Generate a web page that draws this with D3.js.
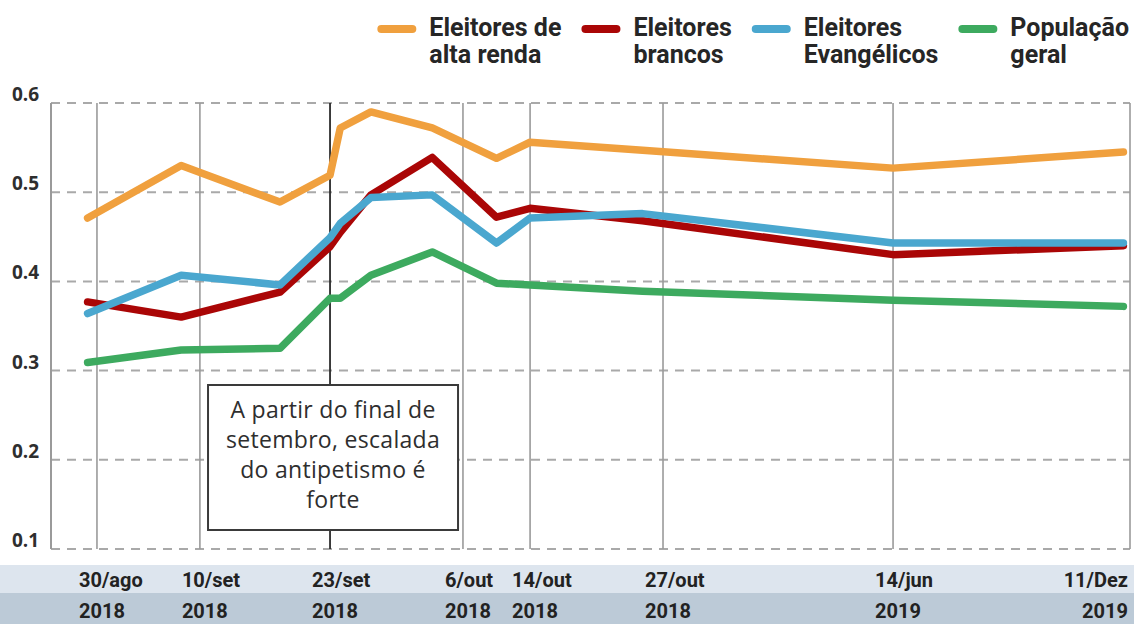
<!DOCTYPE html>
<html><head><meta charset="utf-8">
<script src="https://cdn.jsdelivr.net/npm/d3@7"></script>
<style>
html,body{margin:0;padding:0;background:#fff;}
svg{display:block;}
</style></head><body>
<svg id="chart" width="1134" height="624"></svg>
<script>
// ---------- data ----------
const surveyDates = ["2018-08-29","2018-09-08","2018-09-18","2018-09-23","2018-09-24","2018-09-27",
                     "2018-10-03","2018-10-10","2018-10-14","2018-10-25","2019-06-14","2019-12-06"];
const eleitoresAltaRenda   = [0.471,0.530,0.489,0.519,0.572,0.590,0.572,0.538,0.556,0.547,0.527,0.545];
const eleitoresBrancos     = [0.377,0.360,0.388,0.439,0.455,0.497,0.539,0.472,0.482,0.468,0.430,0.440];
const eleitoresEvangelicos = [0.364,0.407,0.396,0.449,0.465,0.494,0.497,0.443,0.471,0.476,0.443,0.443];
const populacaoGeral       = [0.309,0.323,0.325,0.381,0.381,0.407,0.433,0.398,0.396,0.389,0.379,0.372];

const seriesNames  = ["Eleitores de alta renda","Eleitores brancos","Eleitores Evangélicos","População geral"];
const legendLines  = [["Eleitores de","alta renda"],["Eleitores","brancos"],["Eleitores","Evangélicos"],["População","geral"]];

const tickDates      = ["2018-08-30","2018-09-10","2018-09-23","2018-10-06","2018-10-14","2018-10-27","2019-06-14","2019-12-11"];
const tickDayLabels  = ["30/ago","10/set","23/set","6/out","14/out","27/out","14/jun","11/Dez"];
const tickYearLabels = ["2018","2018","2018","2018","2018","2018","2019","2019"];
const yTickValues    = [0.1,0.2,0.3,0.4,0.5,0.6];
const highlightDate  = "2018-09-23";
const annotationLines = ["A partir do final de","setembro, escalada","do antipetismo é","forte"];

// ---------- styles / layout ----------
const seriesColors = ["#F0A03E","#AA0606","#4AA7CF","#3DAA5F"];
const drawOrder = [3,1,2,0];
const W = 1134, H = 624;
const plot = {left:51, right:1130, top:103, bottom:549};
// horizontal layout of the (non-proportional) date axis, as fractions of plot width
const tickFrac = [0.0426,0.138,0.2586,0.3818,0.4440,0.5672,0.7804,1.0];

const parse = d3.timeParse("%Y-%m-%d");
const svg = d3.select("#chart");
const pw = plot.right - plot.left;

const x = d3.scaleTime()
  .domain(tickDates.map(parse))
  .range(tickFrac.map(f => plot.left + f * pw));
const y = d3.scaleLinear().domain([0.1,0.6]).range([plot.bottom, plot.top]);

// bottom bands
svg.append("rect").attr("x",0).attr("y",565).attr("width",W).attr("height",28).attr("fill","#dde5ee");
svg.append("rect").attr("x",0).attr("y",593).attr("width",W).attr("height",31).attr("fill","#bccad7");

// horizontal dashed grid
svg.append("g").selectAll("line").data(yTickValues).join("line")
  .attr("x1",plot.left).attr("x2",plot.right)
  .attr("y1",d=>y(d)).attr("y2",d=>y(d))
  .attr("stroke","#a9a9a9").attr("stroke-width",2).attr("stroke-dasharray","9,7");

// y labels
svg.append("g").selectAll("text").data(yTickValues).join("text")
  .attr("x",12).attr("y",d=>y(d)-2)
  .attr("font-family","'Open Sans',sans-serif").attr("font-weight",700).attr("font-size",19)
  .attr("fill","#2e2e2e").text(d=>d3.format(".1f")(d));

// left axis line
svg.append("line").attr("x1",plot.left).attr("x2",plot.left).attr("y1",plot.top).attr("y2",plot.bottom)
  .attr("stroke","#9a9a9a").attr("stroke-width",2);

// vertical lines at ticks
svg.append("g").selectAll("line").data(tickDates).join("line")
  .attr("x1",d=>x(parse(d))).attr("x2",d=>x(parse(d)))
  .attr("y1",plot.top).attr("y2",plot.bottom)
  .attr("stroke",d=>d===highlightDate?"#2a2a2a":"#9a9a9a")
  .attr("stroke-width",d=>d===highlightDate?1.8:1.6);

// x labels
const xl = svg.append("g").attr("font-family","Roboto,sans-serif").attr("font-weight",700)
  .attr("font-size",20).attr("fill","#222");
tickDates.forEach((d,i)=>{
  const last = i===tickDates.length-1;
  const px = last ? x(parse(d)) - 2 : x(parse(d)) - 18;
  xl.append("text").attr("x",px).attr("y",587).attr("text-anchor",last?"end":"start").text(tickDayLabels[i]);
  xl.append("text").attr("x",px).attr("y",618).attr("text-anchor",last?"end":"start").text(tickYearLabels[i]);
});

// annotation box
const hx = x(parse(highlightDate));
const boxW = 250, boxTop = 385, boxH = 145;
svg.append("rect").attr("x",hx-boxW/2+3).attr("y",boxTop).attr("width",boxW).attr("height",boxH)
  .attr("fill","#fff").attr("stroke","#3a3a3a").attr("stroke-width",2);
svg.append("g").selectAll("text").data(annotationLines).join("text")
  .attr("x",hx+3).attr("y",(d,i)=>418+i*30)
  .attr("text-anchor","middle").attr("font-family","'Open Sans',sans-serif")
  .attr("font-size",23).attr("letter-spacing",0.3).attr("fill","#2e2e2e").text(d=>d);

// series lines
const allSeries = [eleitoresAltaRenda,eleitoresBrancos,eleitoresEvangelicos,populacaoGeral];
const line = d3.line().x(d=>x(d.date)).y(d=>y(d.value));
drawOrder.forEach(k=>{
  const pts = surveyDates.map((d,i)=>({date:parse(d), value:allSeries[k][i]}));
  svg.append("path").datum(pts).attr("d",line)
    .attr("fill","none").attr("stroke",seriesColors[k]).attr("stroke-width",7.5)
    .attr("stroke-linejoin","round").attr("stroke-linecap","round");
});

// legend
const lg = svg.append("g");
const items = legendLines.map((lines,i)=>{
  const g = lg.append("g");
  g.append("rect").attr("x",0).attr("y",25).attr("width",39).attr("height",8).attr("rx",4)
    .attr("fill",seriesColors[i]);
  const t = g.append("g").attr("font-family","Roboto,sans-serif").attr("font-weight",700)
    .attr("font-size",25).attr("fill","#262626");
  let w = 0;
  lines.forEach((s,j)=>{
    const tt = t.append("text").attr("x",52).attr("y",36+j*27).text(s);
    w = Math.max(w, tt.node().getComputedTextLength());
  });
  return {g, w:52+w};
});
const gap = 20;
const total = d3.sum(items,d=>d.w) + gap*(items.length-1);
let cx = 1129 - total;
items.forEach(it=>{ it.g.attr("transform",`translate(${cx},0)`); cx += it.w + gap; });
</script>
</body></html>
